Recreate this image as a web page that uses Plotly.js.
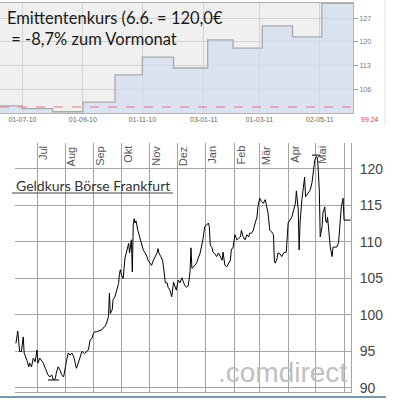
<!DOCTYPE html>
<html><head><meta charset="utf-8">
<script src="https://cdn.plot.ly/plotly-3.0.1.min.js"></script>
<style>html,body{margin:0;padding:0;background:#fff}#c{width:393px;height:400px}</style>
</head><body><div id="c"></div>
<script>
// ---- top chart: Emittentenkurs (monthly step) ----
const emDates = ['2010-06-08','2010-07-01','2010-08-01','2010-09-01','2010-10-04','2010-11-01','2010-12-03','2011-01-07','2011-02-02','2011-03-04','2011-04-04','2011-05-04','2011-06-05'];
const emKurs  = [101.3,100.5,99.6,102.4,110.4,115.6,112.4,120.6,118.2,124.7,121.5,131.3,131.3];
const emTickDates = ['2010-07-01','2010-09-01','2010-11-01','2011-01-03','2011-03-01','2011-05-02'];
const emYTicks = [106,113,120,127];
const emMin = 99.24;
const emRefLevel = 101.0;
const emText = 'Emittentenkurs (6.6. = 120,0€<br> = -8,7% zum Vormonat';

// ---- bottom chart: Geldkurs Börse Frankfurt ----
const geldStart = '2010-07-01';
const geldDays = [-23,-21,-19,-17,-15,-14,-11,-9,-8,-6,-4,-2,0,1,3,5,7,9,11,12,14,16,18,20,21,23,25,27,29,31,32,34,36,38,40,41,43,45,47,49,51,52,54,56,58,60,61,63,65,67,69,71,72,74,76,78,79,80,82,83,85,87,89,90,91,92,94,96,98,100,101,103,104,105,106,107,108,109,110,112,114,116,118,120,121,123,125,127,129,131,132,133,135,137,138,140,142,143,145,147,149,151,152,154,156,158,160,161,163,165,167,168,169,171,174,178,181,183,185,187,188,189,191,192,194,196,198,200,202,203,204,205,207,209,211,212,214,216,218,220,222,223,225,227,229,231,232,234,236,238,240,241,243,245,247,249,251,252,254,256,258,259,260,262,263,265,267,269,271,272,274,276,278,280,282,283,285,286,287,289,291,292,293,294,296,298,300,302,303,305,306,307,308,309,311,312,314,315,316,317,318,319,320,322,323,325,327,329,331,332,334,335];
const geldKurs = [96.1,97.8,95.0,95.0,97.0,94.8,93.8,92.9,93.4,92.9,94.1,93.6,95.2,93.4,94.1,93.8,93.4,92.7,92.0,91.8,91.5,91.8,91.1,91.3,92.0,92.9,92.5,91.8,91.5,93.4,93.6,94.8,94.5,94.8,94.3,93.8,92.7,93.4,94.3,95.0,94.8,94.7,95.0,95.2,96.6,96.8,97.3,97.7,97.7,97.8,98.0,98.0,98.2,98.4,98.9,99.8,103.0,100.2,100.7,102.1,102.5,103.4,104.3,105.7,106.2,105.5,105.0,107.8,108.9,109.8,108.5,110.3,105.9,112.3,113.2,112.6,112.9,112.1,111.6,110.7,109.9,108.9,108.5,108.0,107.5,107.1,106.8,107.5,108.0,108.5,109.1,108.5,108.0,107.5,106.6,104.4,104.4,103.8,103.4,102.5,104.5,103.7,103.4,104.8,104.4,105.1,104.5,104.1,103.8,104.0,105.9,109.2,106.4,106.6,107.1,108.5,110.3,112.1,112.3,112.6,112.1,109.6,109.2,108.6,108.4,108.0,108.5,108.0,107.5,108.6,107.8,106.8,106.6,107.1,107.5,108.9,109.3,111.0,110.3,110.5,110.7,111.6,110.7,110.3,111.0,110.7,111.2,111.2,111.6,112.6,113.4,114.8,116.0,115.5,115.3,115.8,114.8,114.0,111.6,111.4,111.0,107.3,107.1,107.8,108.5,108.4,108.0,108.5,108.6,108.6,112.6,113.0,113.4,114.4,115.3,117.0,114.4,108.9,112.6,115.8,118.1,118.9,116.2,116.4,116.7,117.1,118.1,119.9,121.2,121.7,121.5,119.5,117.1,110.7,112.1,114.0,114.8,113.0,112.6,113.4,111.9,111.2,109.3,108.0,109.3,109.3,109.3,109.9,112.6,114.8,116.0,113.0];
const monthNames = ['Jul','Aug','Sep','Okt','Nov','Dez','Jan','Feb','Mär','Apr','Mai'];
const monthStarts = ['2010-07-01','2010-08-01','2010-09-01','2010-10-01','2010-11-01','2010-12-01','2011-01-01','2011-02-01','2011-03-01','2011-04-01','2011-05-01','2011-06-01'];
const geldYTicks = [90,95,100,105,110,115,120];
const geldTitle = 'Geldkurs Börse Frankfurt';
const watermark = '.comdirect';

// ---- helpers ----
const DAY = 86400000;
const baseMs = Date.parse(geldStart + 'T00:00:00Z');
const toDate = d => new Date(baseMs + d * DAY).toISOString().slice(0, 10);
const geldDates = geldDays.map(toDate);
const iMin = geldKurs.indexOf(Math.min(...geldKurs));
const iMax = geldKurs.indexOf(Math.max(...geldKurs));
const iLast = geldKurs.length - 1;

// pixel -> paper helpers for layout placement
const W = 393, H = 400;
const px = x => x / W, py = y => 1 - y / H;

const traces = [
  { x: emDates, y: emKurs, xaxis: 'x', yaxis: 'y', type: 'scatter', mode: 'lines',
    line: { shape: 'hv', color: '#a9a9a9', width: 1.3 }, fill: 'tozeroy',
    fillcolor: 'rgba(205,218,242,0.6)', hoverinfo: 'skip' },
  { x: geldDates, y: geldKurs, xaxis: 'x2', yaxis: 'y2', type: 'scatter', mode: 'lines',
    line: { color: '#000', width: 1 }, hoverinfo: 'skip' },
  // min / max / last markers
  { x: [toDate(geldDays[iMin] - 6), toDate(geldDays[iMin] + 6)], y: [geldKurs[iMin], geldKurs[iMin]],
    xaxis: 'x2', yaxis: 'y2', mode: 'lines', line: { color: '#000', width: 1 } },
  { x: [toDate(geldDays[iMax] - 5), toDate(geldDays[iMax] + 4)], y: [geldKurs[iMax] + 0.2, geldKurs[iMax] + 0.2],
    xaxis: 'x2', yaxis: 'y2', mode: 'lines', line: { color: '#000', width: 1 } },
  { x: [toDate(geldDays[iLast]), toDate(geldDays[iLast] + 7)], y: [geldKurs[iLast], geldKurs[iLast]],
    xaxis: 'x2', yaxis: 'y2', mode: 'lines', line: { color: '#000', width: 1 } }
];

const annotations = [
  { text: emText, xref: 'paper', yref: 'paper', x: px(5), y: py(6), xanchor: 'left', yanchor: 'top',
    align: 'left', showarrow: false, font: { family: 'Lato', size: 16.5, color: '#1a1a1a' } },
  { text: String(emMin), xref: 'paper', yref: 'paper', x: px(370), y: py(119), xanchor: 'center', yanchor: 'middle',
    showarrow: false, font: { family: 'Liberation Sans', size: 7, color: '#e03a3a' } },
  { text: geldTitle, xref: 'paper', yref: 'paper', x: px(14), y: py(196), xanchor: 'left', yanchor: 'bottom',
    showarrow: false, font: { family: 'Lato', size: 14, color: '#333' } },
  { text: watermark, xref: 'paper', yref: 'paper', x: px(282), y: py(372), xanchor: 'center', yanchor: 'middle',
    showarrow: false, font: { family: 'Liberation Sans', size: 28, color: '#c0c0c0' } }
].concat(monthNames.map((m, i) => ({
  text: m, xref: 'x2', yref: 'paper', x: monthStarts[i], y: py(144), xshift: 6,
  xanchor: 'center', yanchor: 'top', textangle: -90, showarrow: false,
  font: { family: 'Liberation Sans', size: 11, color: '#555' }
})));

const shapes = [
  { type: 'rect', xref: 'x domain', yref: 'y domain', x0: 0, x1: 1, y0: 0, y1: 1, layer: 'below',
    fillcolor: '#f0f0f0', line: { width: 0 } },
  { type: 'line', xref: 'x domain', yref: 'y', x0: 0, x1: 1, y0: emRefLevel, y1: emRefLevel,
    line: { color: '#e07a7a', width: 1.2, dash: 'dash' } },
  { type: 'line', xref: 'paper', yref: 'paper', x0: px(12), x1: px(173), y0: py(193), y1: py(193),
    line: { color: '#444', width: 1 } },
  { type: 'line', xref: 'paper', yref: 'paper', x0: 0, x1: px(386), y0: py(397), y1: py(397),
    line: { color: '#7b97a3', width: 2 } },
  { type: 'line', xref: 'paper', yref: 'paper', x0: px(385), x1: px(385), y0: py(0), y1: py(126),
    line: { color: '#dfe8df', width: 1 } }
];

const layout = {
  width: W, height: H, margin: { l: 0, r: 0, t: 0, b: 0 },
  paper_bgcolor: '#fff', plot_bgcolor: 'rgba(0,0,0,0)', showlegend: false,
  xaxis: { domain: [0, px(353)], anchor: 'y', type: 'date', range: ['2010-06-08', '2011-06-05'],
    tickvals: emTickDates, tickformat: '%d-%m-%y', ticks: '', showgrid: true, gridcolor: '#d2d2d2',
    showline: true, linecolor: '#b4b4b4', mirror: true, zeroline: false,
    tickfont: { family: 'Liberation Sans', size: 7, color: '#666' } },
  yaxis: { domain: [py(113), py(3)], anchor: 'x', side: 'right', range: [emMin, 131.4],
    tickvals: emYTicks, ticks: 'outside', ticklen: 4, tickcolor: '#999', showgrid: true, gridcolor: '#d2d2d2',
    showline: true, linecolor: '#b4b4b4', zeroline: false,
    tickfont: { family: 'Liberation Sans', size: 7, color: '#777' } },
  xaxis2: { domain: [px(15), px(351)], anchor: 'y2', type: 'date', range: ['2010-06-07', '2011-06-08 14:00'],
    tickvals: monthStarts, showticklabels: false, ticks: '', showgrid: true, gridcolor: '#a4a4a4',
    showline: true, linecolor: '#a4a4a4', zeroline: false },
  yaxis2: { domain: [py(392), py(143)], anchor: 'x2', side: 'right', range: [89.45, 123.56],
    tickvals: geldYTicks, ticks: '', showgrid: true, gridcolor: '#a4a4a4', showline: true, linecolor: '#a4a4a4',
    zeroline: false, ticklabelstandoff: 5,
    tickfont: { family: 'Liberation Sans', size: 14, color: '#444' } },
  annotations: annotations, shapes: shapes
};

Plotly.newPlot('c', traces, layout, { staticPlot: true, displayModeBar: false });
</script></body></html>
